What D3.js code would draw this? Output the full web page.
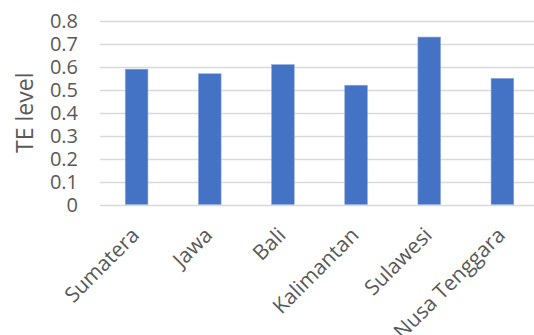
<!DOCTYPE html>
<html>
<head>
<meta charset="utf-8">
<script src="https://cdn.jsdelivr.net/npm/d3@7"></script>
<style>
  body { margin: 0; background: #fff; }
  text { font-family: "Open Sans", sans-serif; fill: #595959; }
</style>
</head>
<body>
<div id="chart"></div>
<script>
// data
var regions = ["Sumatera", "Jawa", "Bali", "Kalimantan", "Sulawesi", "Nusa Tenggara"];
var teLevel = [0.59, 0.57, 0.61, 0.52, 0.73, 0.55];
var yTicks = [0, 0.1, 0.2, 0.3, 0.4, 0.5, 0.6, 0.7, 0.8];

var W = 534, H = 335;
var margin = { top: 21, right: 0, bottom: 131, left: 100 };

var svg = d3.select("#chart").append("svg")
  .attr("width", W)
  .attr("height", H);

var x = d3.scaleBand()
  .domain(regions)
  .range([margin.left, 539])
  .paddingInner(0.69)
  .paddingOuter(0.345);

var y = d3.scaleLinear()
  .domain([0, 0.8])
  .range([H - margin.bottom + 0.5, margin.top]);

// gridlines
svg.append("g")
  .selectAll("line")
  .data(yTicks)
  .enter()
  .append("line")
  .attr("x1", margin.left)
  .attr("x2", W)
  .attr("y1", function (d) { return Math.round(y(d)) + 0.5; })
  .attr("y2", function (d) { return Math.round(y(d)) + 0.5; })
  .attr("stroke", "#d9d9d9")
  .attr("stroke-width", 1.5);

// y labels
svg.append("g")
  .selectAll("text")
  .data(yTicks)
  .enter()
  .append("text")
  .attr("x", 78)
  .attr("y", function (d) { return y(d); })
  .attr("dy", "0.35em")
  .attr("text-anchor", "end")
  .attr("font-size", "20px")
  .text(function (d) { return d === 0 ? "0" : d3.format(".1f")(d); });

// bars
svg.append("g")
  .selectAll("rect")
  .data(teLevel)
  .enter()
  .append("rect")
  .attr("x", function (d, i) { return x(regions[i]); })
  .attr("width", x.bandwidth())
  .attr("y", function (d) { return y(d); })
  .attr("height", function (d) { return y(0) - y(d); })
  .attr("fill", "#4472c4")
  .attr("stroke", "#8faadc")
  .attr("stroke-width", 0.6);

// x labels
svg.append("g")
  .selectAll("text")
  .data(regions)
  .enter()
  .append("text")
  .attr("transform", function (d) {
    return "translate(" + (x(d) + x.bandwidth() / 2 + 4) + "," + (y(0) + 32) + ") rotate(-45)";
  })
  .attr("text-anchor", "end")
  .attr("font-size", "21px")
  .text(function (d) { return d; });

// y axis title
svg.append("text")
  .attr("transform", "translate(33," + y(0.4) + ") rotate(-90)")
  .attr("text-anchor", "middle")
  .attr("font-size", "23px")
  .text("TE level");
</script>
</body>
</html>
